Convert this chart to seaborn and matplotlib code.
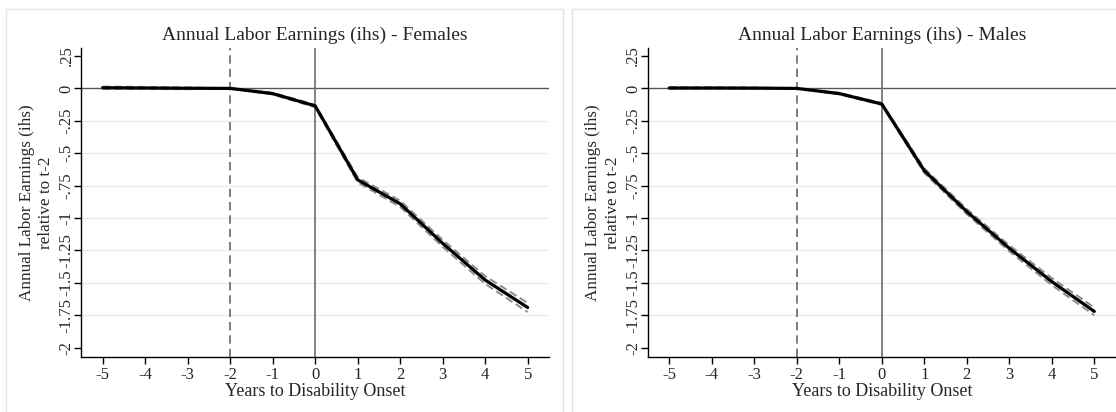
import numpy as np
import pandas as pd
import matplotlib
matplotlib.use("Agg")
import matplotlib.pyplot as plt
import seaborn as sns
from matplotlib.patches import Rectangle

# Event-study estimates
years = [-5, -4, -3, -2, -1, 0, 1, 2, 3, 4, 5]

female_est = [0.005, 0.003, 0.001, 0.0, -0.040, -0.135, -0.705, -0.890, -1.195, -1.478, -1.690]
female_lo = [-0.004, -0.005, -0.006, 0.0, -0.047, -0.145, -0.725, -0.914, -1.222, -1.508, -1.725]
female_hi = [0.014, 0.011, 0.008, 0.0, -0.033, -0.125, -0.685, -0.866, -1.168, -1.448, -1.655]

male_est = [0.003, 0.003, 0.002, 0.0, -0.040, -0.120, -0.634, -0.950, -1.233, -1.490, -1.720]
male_lo = [-0.004, -0.003, -0.004, 0.0, -0.046, -0.128, -0.652, -0.970, -1.256, -1.517, -1.750]
male_hi = [0.010, 0.009, 0.008, 0.0, -0.034, -0.112, -0.616, -0.930, -1.210, -1.463, -1.690]

titles = ["Annual Labor Earnings (ihs) - Females", "Annual Labor Earnings (ihs) - Males"]
ytick_vals = [0.25, 0, -0.25, -0.5, -0.75, -1, -1.25, -1.5, -1.75, -2]
ytick_labels = [".25", "0", "-.25", "-.5", "-.75", "-1", "-1.25", "-1.5", "-1.75", "-2"]

sns.set_style("white")
plt.rcParams["font.family"] = ["Liberation Serif", "DejaVu Serif"]

fig = plt.figure(figsize=(11.16, 4.12), dpi=100)

# light panel frames (Stata graph regions)
for x0 in [6, 572]:
    fig.add_artist(Rectangle((x0 / 1116, -0.05), 557 / 1116, (412 - 9) / 412 + 0.05,
                             transform=fig.transFigure, fill=False,
                             edgecolor="#e4e4e4", lw=1.0))

panels = [
    (0.0729, female_est, female_lo, female_hi),
    (0.5806, male_est, male_lo, male_hi),
]

for i, (left, est, lo, hi) in enumerate(panels):
    ax = fig.add_axes([left, 0.134, 0.419, 0.749])
    df = pd.DataFrame({"year": years, "est": est, "lo": lo, "hi": hi})

    # inner gridlines
    for yv in ytick_vals[2:-1]:
        ax.axhline(yv, color="#ebebeb", lw=1.0, zorder=0)
    ax.axhline(0, color="#555555", lw=1.0, zorder=1)
    ax.axvline(0, color="#777777", lw=1.3, zorder=1)
    ax.axvline(-2, color="#666666", lw=1.2, ls=(0, (5, 3)), zorder=1)

    sns.lineplot(data=df, x="year", y="lo", ax=ax, color="#8c8c8c", lw=1.4,
                 linestyle=(0, (4, 2)), zorder=2)
    sns.lineplot(data=df, x="year", y="hi", ax=ax, color="#8c8c8c", lw=1.4,
                 linestyle=(0, (4, 2)), zorder=2)
    sns.lineplot(data=df, x="year", y="est", ax=ax, color="black", lw=2.3, zorder=3)

    ax.set_xlim(-5.5, 5.5)
    ax.set_ylim(-2.07, 0.31)
    ax.set_xticks(years)
    ax.set_xticklabels([str(y) for y in years])
    ax.set_yticks(ytick_vals)
    ax.set_yticklabels(ytick_labels, rotation=90, va="center")
    ax.tick_params(axis="both", direction="out", length=5, width=1, labelsize=12,
                   color="black")
    ax.tick_params(axis="x", bottom=True, pad=2)
    ax.tick_params(axis="y", left=True, pad=0)

    for s in ["top", "right"]:
        ax.spines[s].set_visible(False)
    for s in ["left", "bottom"]:
        ax.spines[s].set_color("black")
        ax.spines[s].set_linewidth(1.0)

    ax.set_title(titles[i], fontsize=14, pad=6)
    ax.set_xlabel("Years to Disability Onset", fontsize=13, labelpad=0)
    ax.set_ylabel("Annual Labor Earnings (ihs)\nrelative to t-2", fontsize=12.3,
                  linespacing=1.3)
    ax.yaxis.set_label_coords(-0.058, 0.5)

fig.savefig("out.png", dpi=100)
